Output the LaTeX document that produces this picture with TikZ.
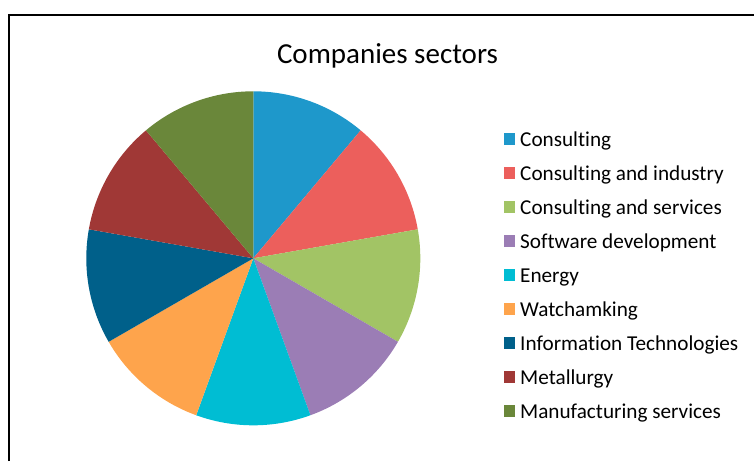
\documentclass[tikz,border=0pt]{standalone}
\usepackage{fontspec}
\setmainfont{Carlito}[Ligatures=NoCommon]
\usetikzlibrary{positioning}
\definecolor{consult}{HTML}{1E98CB}
\definecolor{industry}{HTML}{EC5F5C}
\definecolor{services}{HTML}{A2C465}
\definecolor{software}{HTML}{9B7DB5}
\definecolor{energy}{HTML}{00BDD3}
\definecolor{watch}{HTML}{FEA44C}
\definecolor{infotech}{HTML}{00608A}
\definecolor{metal}{HTML}{A03836}
\definecolor{manufact}{HTML}{6A873A}
\tikzset{
	frame/.style={line width=1.5pt},
	heading/.style={anchor=base,inner sep=0pt,font=\fontsize{29}{35}\selectfont},
	keybox/.style={anchor=south west,inner sep=0pt,minimum size=11.5pt},
	keytext/.style={anchor=base west,inner sep=0pt,font=\fontsize{21.2}{25}\selectfont}
}

\begin{document}
\begin{tikzpicture}[x=1pt,y=1pt]
	\useasboundingbox (0,-461) rectangle (754,0);
	\draw[frame] (9,-461) -- (9,-15) -- (754,-15);
	\node[heading] (title) at (387.5,-63.3) {Companies sectors};
	\coordinate (ctr) at (253.3,-258.3);
	\foreach \c [count=\i] in {consult,industry,services,software,energy,watch,infotech,metal,manufact}
		\fill[\c] (ctr) -- ++({130-40*\i}:167) arc[start angle={130-40*\i},end angle={90-40*\i},radius=167pt] -- cycle;
	\foreach \c/\t [count=\i] in {consult/Consulting,industry/Consulting and industry,services/Consulting and services,software/Software development,energy/Energy,watch/Watchamking,infotech/Information Technologies,metal/Metallurgy,manufact/Manufacturing services}{
		\node[keybox,fill=\c] (key\i) at (503.5,{-146-34*(\i-1)+1}) {};
		\node[keytext] (lab\i) at (520,{-146-34*(\i-1)}) {\t};
	}
\end{tikzpicture}
\end{document}
